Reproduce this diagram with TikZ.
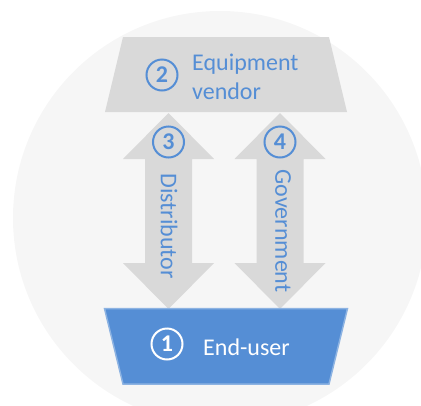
\documentclass[tikz,border=0pt]{standalone}
\usepackage{fontspec}
\setmainfont{Carlito}
\definecolor{bgc}{HTML}{F6F6F6}
\definecolor{gry}{HTML}{D9D9D9}
\definecolor{blu}{HTML}{558ED5}
\definecolor{blb}{HTML}{8DB3E2}
\tikzset{
  label text/.style={font=\fontsize{24}{29}\selectfont, text=blu, inner sep=0pt, align=left},
  numcirc/.style={circle, draw=blu, line width=2pt, minimum size=31pt, inner sep=0pt,
    text=blu, font=\fontsize{24}{24}\selectfont\bfseries},
  blockshape/.style={fill=gry, draw=none}
}
\newcommand{\dblarrow}[1]{%
  \fill[blockshape] (#1,113) -- (#1+45.5,159) -- (#1+23.5,159) -- (#1+23.5,263)
    -- (#1+45.5,263) -- (#1,309) -- (#1-45.5,263) -- (#1-23.5,263) -- (#1-23.5,159)
    -- (#1-45.5,159) -- cycle;}
\begin{document}
\begin{tikzpicture}[x=1pt,y=-1pt]
\useasboundingbox (0,0) rectangle (421,405);
\clip (0,0) rectangle (421,405);
\fill[bgc] (220,218) circle (207pt);
\fill[blockshape] (123,37) -- (329,37) -- (347,112) -- (105,112) -- cycle;
\dblarrow{168.5}
\dblarrow{280}
\draw[fill=blu, draw=blb, line width=1.5pt] (104.5,308.5) -- (347.5,308.5) -- (329,384) -- (123,384) -- cycle;
\node[numcirc] (n2) at (162,75) {2};
\node[numcirc] (n3) at (168.5,142) {3};
\node[numcirc] (n4) at (280,142) {4};
\node[numcirc, draw=white, text=white] (n1) at (167,344) {1};
\node[label text, anchor=west] (eq) at (192,77) {Equipment\\vendor};
\node[label text, text=white, anchor=west] (eu) at (203,347) {End-user};
\node[label text, rotate=-90] (di) at (169,226) {Distributor};
\node[label text, rotate=-90] (go) at (283,231) {Government};
\end{tikzpicture}
\end{document}
